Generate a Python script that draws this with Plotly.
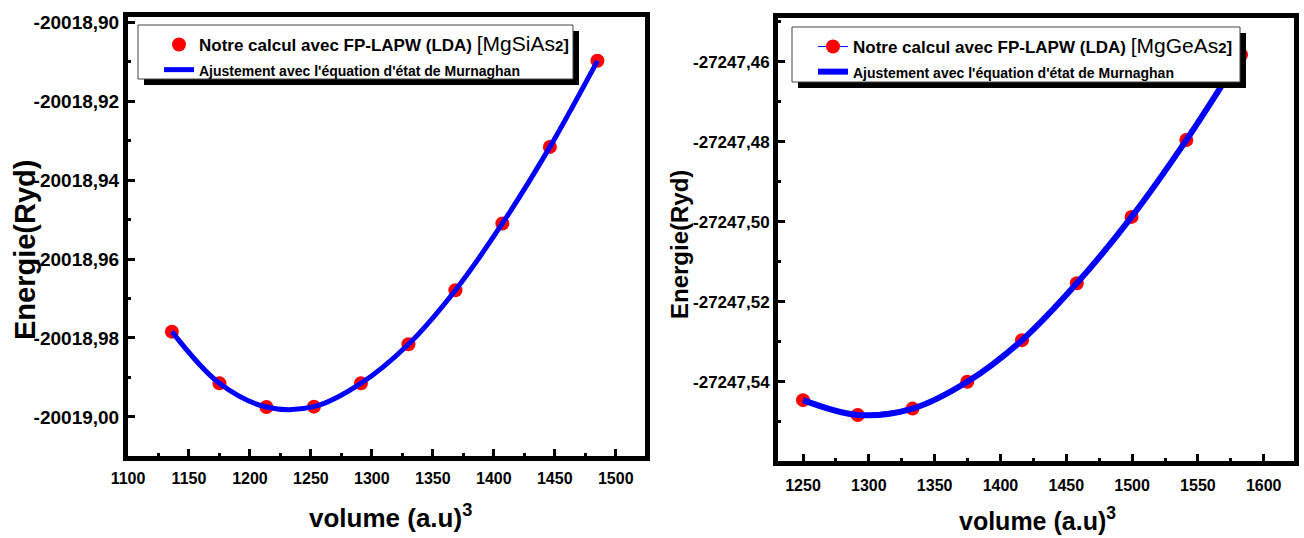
import plotly.graph_objects as go

W, H = 1304, 538

# ---------------- data ----------------
# Left panel : MgSiAs2
vol_si = [1136, 1175, 1213.5, 1252.5, 1291, 1330, 1368.5, 1407, 1446, 1485]
e_si = [-20018.9784, -20018.9915, -20018.9975, -20018.9974, -20018.9915,
        -20018.9816, -20018.9679, -20018.9510, -20018.9316, -20018.9098]

# Right panel : MgGeAs2
vol_ge = [1250, 1291.6, 1333.2, 1374.8, 1416.4, 1458, 1499.6, 1541.2, 1582.8]
e_ge = [-27247.5446, -27247.5483, -27247.5467, -27247.5400, -27247.5296,
        -27247.5154, -27247.4988, -27247.4796, -27247.4583]

# tick values / labels
xt_si = [1100, 1150, 1200, 1250, 1300, 1350, 1400, 1450, 1500]
xl_si = ["1100", "1150", "1200", "1250", "1300", "1350", "1400", "1450", "1500"]
yt_si = [-20019.00, -20018.98, -20018.96, -20018.94, -20018.92, -20018.90]
yl_si = ["-20019,00", "-20018,98", "-20018,96", "-20018,94", "-20018,92", "-20018,90"]

xt_ge = [1250, 1300, 1350, 1400, 1450, 1500, 1550, 1600]
xl_ge = ["1250", "1300", "1350", "1400", "1450", "1500", "1550", "1600"]
yt_ge = [-27247.56, -27247.54, -27247.52, -27247.50, -27247.48, -27247.46]
yl_ge = ["-27247,56", "-27247,54", "-27247,52", "-27247,50", "-27247,48", "-27247,46"]

legend_pts_si = ("<b>Notre calcul avec FP-LAPW (LDA) </b>"
                 "<span style='font-size:21px'>[MgSiAs</span><b><span style='font-size:15px'>2</span>]</b>")
legend_pts_ge = ("<b>Notre calcul avec FP-LAPW (LDA) </b>"
                 "<span style='font-size:21px'>[MgGeAs</span><b><span style='font-size:15px'>2</span>]</b>")
legend_fit = "<b><span style='font-size:14px'>Ajustement avec l'équation d'état de Murnaghan</span></b>"

FONT = "Liberation Sans, Arial, sans-serif"
RED = "#FF0000"
BLUE = "#0000FF"


def bold(labels):
    return ["<b>%s</b>" % s for s in labels]


def px_x(p):
    return p / W


def px_y(p):
    return (H - p) / H


fig = go.Figure()

# left panel
fig.add_trace(go.Scatter(x=vol_si, y=e_si, mode="markers", name=legend_pts_si,
                         marker=dict(color=RED, size=14), xaxis="x", yaxis="y",
                         legend="legend"))
fig.add_trace(go.Scatter(x=vol_si, y=e_si, mode="lines", name=legend_fit,
                         line=dict(color=BLUE, width=5, shape="spline", smoothing=1.0),
                         xaxis="x", yaxis="y", legend="legend"))

# right panel
fig.add_trace(go.Scatter(x=vol_ge, y=e_ge, mode="lines+markers", name=legend_pts_ge,
                         marker=dict(color=RED, size=14), line=dict(color=BLUE, width=1),
                         xaxis="x2", yaxis="y2", legend="legend2"))
fig.add_trace(go.Scatter(x=vol_ge, y=e_ge, mode="lines", name=legend_fit,
                         line=dict(color=BLUE, width=6, shape="spline", smoothing=1.0),
                         xaxis="x2", yaxis="y2", legend="legend2"))

axis_common = dict(showline=True, linewidth=5, linecolor="black", mirror=True,
                   showgrid=False, zeroline=False, ticks="inside", ticklen=7,
                   tickwidth=3, tickcolor="black", tickmode="array", automargin=False)

fig.update_layout(
    width=W, height=H,
    margin=dict(l=0, r=0, t=0, b=0, autoexpand=False),
    paper_bgcolor="white", plot_bgcolor="white",
    font=dict(family=FONT, color="black"),
    showlegend=True,
    xaxis=dict(**axis_common, domain=[px_x(128), px_x(645)], range=[1100, 1524],
               tickvals=xt_si, ticktext=bold(xl_si), anchor="y",
               tickfont=dict(family=FONT, size=16), ticklabelstandoff=4,
               minor=dict(ticks="inside", ticklen=3, tickwidth=3, tickcolor="black",
                          tick0=1100, dtick=25)),
    yaxis=dict(**axis_common, domain=[px_y(456), px_y(17)],
               range=[-20019.0099, -20018.8987],
               tickvals=yt_si, ticktext=bold(yl_si), anchor="x",
               tickfont=dict(family=FONT, size=19),
               minor=dict(ticks="inside", ticklen=3, tickwidth=3, tickcolor="black",
                          tick0=-20019.0, dtick=0.01)),
    xaxis2=dict(**axis_common, domain=[px_x(778), px_x(1294)], range=[1231, 1623],
                tickvals=xt_ge, ticktext=bold(xl_ge), anchor="y2",
                tickfont=dict(family=FONT, size=16), ticklabelstandoff=6,
                minor=dict(ticks="inside", ticklen=3, tickwidth=3, tickcolor="black",
                           tick0=1250, dtick=25)),
    yaxis2=dict(**axis_common, domain=[px_y(461), px_y(18)],
                range=[-27247.5598, -27247.4491],
                tickvals=yt_ge, ticktext=bold(yl_ge), anchor="x2",
                tickfont=dict(family=FONT, size=17),
                minor=dict(ticks="inside", ticklen=3, tickwidth=3, tickcolor="black",
                           tick0=-27247.56, dtick=0.01)),
    legend=dict(x=px_x(154), y=px_y(27), xanchor="left", yanchor="top",
                bgcolor="rgba(0,0,0,0)", borderwidth=0, indentation=5,
                font=dict(family=FONT, size=17, color="black"), tracegroupgap=0),
    legend2=dict(x=px_x(813), y=px_y(29), xanchor="left", yanchor="top",
                 bgcolor="rgba(0,0,0,0)", borderwidth=0, indentation=0,
                 font=dict(family=FONT, size=17, color="black"), tracegroupgap=0),
)

# legend boxes with drop shadows
for (x0, y0, x1, y1) in [(138, 25, 573, 79), (792, 27, 1240, 82)]:
    fig.add_shape(type="rect", xref="paper", yref="paper", layer="above",
                  x0=px_x(x0 + 6), x1=px_x(x1 + 6), y0=px_y(y1 + 6), y1=px_y(y0 + 6),
                  fillcolor="black", line=dict(width=0))
    fig.add_shape(type="rect", xref="paper", yref="paper", layer="above",
                  x0=px_x(x0), x1=px_x(x1), y0=px_y(y1), y1=px_y(y0),
                  fillcolor="white", line=dict(color="#444444", width=1))

# axis titles
titles = [
    dict(text="<b>Energie(Ryd)</b>", x=px_x(25), y=px_y(250), textangle=-90, size=29),
    dict(text="<b>Energie(Ryd)</b>", x=px_x(680), y=px_y(245), textangle=-90, size=24),
    dict(text="<b>volume (a.u)<sup>3</sup></b>", x=px_x(390), y=px_y(516), textangle=0, size=26),
    dict(text="<b>volume (a.u)<sup>3</sup></b>", x=px_x(1037), y=px_y(519), textangle=0, size=25),
]
for t in titles:
    fig.add_annotation(text=t["text"], x=t["x"], y=t["y"], xref="paper", yref="paper",
                       textangle=t["textangle"], showarrow=False, xanchor="center",
                       yanchor="middle", font=dict(family=FONT, size=t["size"], color="black"))

fig.write_html("out.html")
